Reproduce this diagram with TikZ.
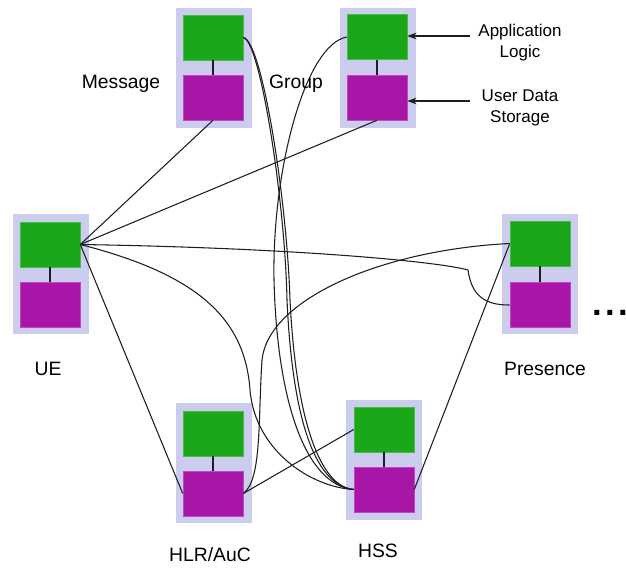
\documentclass[tikz,border=0pt]{standalone}
\usepackage{amsmath}
\usepackage{fontspec}
\setmainfont{Liberation Sans}
\usetikzlibrary{arrows.meta}

\begin{document}
\begin{tikzpicture}[x=0.75pt,y=0.75pt,yscale=-1,xscale=1,
        holder/.style={fill={rgb, 255:red, 204; green, 204; blue, 238 }, minimum width=57pt, minimum height=90pt, inner sep=0pt},
        logic/.style={draw={rgb, 255:red, 70; green, 190; blue, 70 }, fill={rgb, 255:red, 26; green, 168; blue, 26 }, minimum width=45pt, minimum height=33.75pt, inner sep=0pt},
        storage/.style={draw={rgb, 255:red, 190; green, 70; blue, 190 }, fill={rgb, 255:red, 168; green, 22; blue, 168 }, minimum width=45pt, minimum height=33.75pt, inner sep=0pt},
        title/.style={font=\fontsize{14.5}{17}\selectfont, inner sep=0pt},
        note/.style={font=\fontsize{12.75}{15.75}\selectfont, align=center, inner sep=0pt},
        link/.style={line width=0.8, color={rgb, 255:red, 30; green, 30; blue, 30 }}
    ]
        \path[use as bounding box] (0,0) rectangle (626,568);

        %Shape: Rectangle [Message]
        \node[holder] (msgBg) at (214,67.5) {};
        \node[logic] (msgA) at (213,37.5) {};
        \node[storage] (msgD) at (213,97.5) {};
        \draw[link] (msgA) -- (msgD);
        %Shape: Rectangle [Group]
        \node[holder] (grpBg) at (378,67.5) {};
        \node[logic] (grpA) at (377,37) {};
        \node[storage] (grpD) at (377,97.5) {};
        \draw[link] (grpA) -- (grpD);
        %Shape: Rectangle [UE]
        \node[holder] (ueBg) at (50.5,274) {};
        \node[logic] (ueA) at (50,244.5) {};
        \node[storage] (ueD) at (50,304.5) {};
        \draw[link] (ueA) -- (ueD);
        %Shape: Rectangle [Presence]
        \node[holder] (preBg) at (540,274) {};
        \node[logic] (preA) at (540,243.5) {};
        \node[storage] (preD) at (540,305) {};
        \draw[link] (preA) -- (preD);
        %Shape: Rectangle [HLR/AuC]
        \node[holder] (hlrBg) at (213.5,463) {};
        \node[logic] (hlrA) at (213,433.5) {};
        \node[storage] (hlrD) at (213,493.5) {};
        \draw[link] (hlrA) -- (hlrD);
        %Shape: Rectangle [HSS]
        \node[holder] (hssBg) at (383.5,459.5) {};
        \node[logic] (hssA) at (384,429.5) {};
        \node[storage] (hssD) at (384,489.5) {};
        \draw[link] (hssA) -- (hssD);

        %Straight Lines
        \draw[link] (ueA.east) -- (msgD.south);
        \draw[link] (ueA.east) -- (grpD.south);
        \draw[link] (ueA.east) -- (hlrD.west);
        \draw[link] (hlrD.east) -- (hssA.west);
        \draw[link] (preA.west) -- (hssD.east);
        %Curves
        \draw[link] (ueA.east) .. controls (300,248) and (440,262) .. (468,270) .. controls (472,300) and (490,305) .. (preD.west);
        \draw[link] (ueA.east) .. controls (200,275) and (245,320) .. (250,390) .. controls (255,450) and (310,487) .. (hssD.west);
        \draw[link] (hlrD.east) .. controls (262,480) and (258,420) .. (262,360) .. controls (268,300) and (380,250) .. (preA.west);
        \draw[link] (msgA.east) .. controls (262,40) and (287,200) .. (290,300) .. controls (296,420) and (320,487) .. (hssD.west);
        \draw[link] (msgA.east) .. controls (260,40) and (285,200) .. (287,300) .. controls (292,410) and (312,485) .. (hssD.west);
        \draw[link] (grpA.west) .. controls (305,45) and (272,170) .. (274,280) .. controls (277,400) and (305,485) .. (hssD.west);

        %Arrows
        \coordinate (appTail) at (470,36);
        \coordinate (udsTail) at (470,101);
        \draw[link,-{Stealth[length=7pt,width=5pt]}] (appTail) -- (appTail -| grpA.east);
        \draw[link,-{Stealth[length=7pt,width=5pt]}] (udsTail) -- (udsTail -| grpD.east);

        % Text Node
        \node[title] (msgLbl) at (121,84) {Message};
        \node[title] (grpLbl) at (296,84) {Group};
        \node[title] (ueLbl) at (48,369) {UE};
        \node[title] (preLbl) at (545,369) {Presence};
        \node[title] (hlrLbl) at (210,555) {HLR/AuC};
        \node[title] (hssLbl) at (378,551) {HSS};
        \node[note] (appNote) at (520,43) {Application\\Logic};
        \node[note] (udsNote) at (520,108) {User Data\\Storage};
        \node[font=\bfseries\fontsize{26}{28}\selectfont, inner sep=0pt] (moreDots) at (610,313) {.\hspace{2.5pt}.\hspace{2.5pt}.};

\end{tikzpicture}
\end{document}
